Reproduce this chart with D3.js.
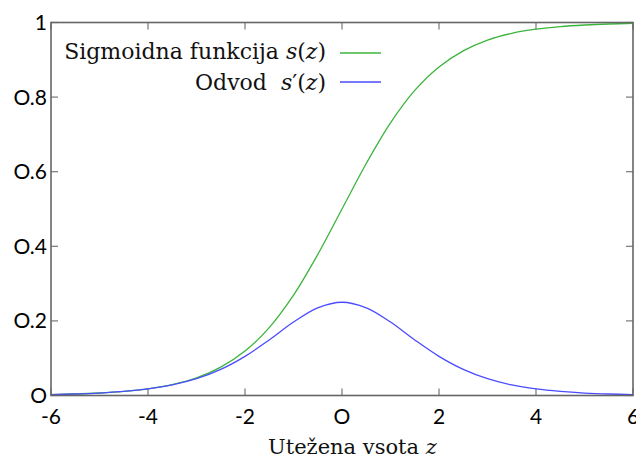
<!DOCTYPE html>
<html><head><meta charset="utf-8">
<script src="https://cdn.jsdelivr.net/npm/d3@7"></script>
<style>body{margin:0;background:#fff}svg{display:block}
.serif{font-family:"DejaVu Serif", "Liberation Serif", "Times New Roman", serif;}
</style>
</head><body>
<svg id="c" width="636" height="459"></svg>
<script>
const zValues = [-6,-5.5,-5,-4.5,-4,-3.5,-3,-2.5,-2,-1.5,-1,-0.5,0,0.5,1,1.5,2,2.5,3,3.5,4,4.5,5,5.5,6];
const sigmoidValues = [0.0025,0.004,0.0067,0.011,0.018,0.029,0.047,0.076,0.119,0.182,0.269,0.378,0.5,0.622,0.731,0.818,0.881,0.924,0.953,0.971,0.982,0.989,0.9933,0.996,0.9975];
const derivValues = [0.0025,0.004,0.0066,0.011,0.0177,0.0283,0.045,0.070,0.105,0.149,0.197,0.235,0.25,0.235,0.197,0.149,0.105,0.070,0.045,0.0283,0.0177,0.011,0.0066,0.004,0.0025];
const xTicks = [-6,-4,-2,0,2,4,6];
const yTicks = [0,0.2,0.4,0.6,0.8,1];
const yTickLabels = ["O","O.2","O.4","O.6","O.8","1"];
const xTickLabels = ["-6","-4","-2","O","2","4","6"];

const svg = d3.select("#c");
const L=51, R=633, T=22.5, B=395.5;
const x = d3.scaleLinear().domain([-6,6]).range([L,R]);
const y = d3.scaleLinear().domain([0,1]).range([B,T]);
const tickColor="#777", tl=7;
const g = svg.append("g");

xTicks.forEach(v=>{
  g.append("line").attr("x1",x(v)).attr("x2",x(v)).attr("y1",B).attr("y2",B-tl).attr("stroke",tickColor).attr("stroke-width",1.2);
  g.append("line").attr("x1",x(v)).attr("x2",x(v)).attr("y1",T).attr("y2",T+tl).attr("stroke",tickColor).attr("stroke-width",1.2);
});
yTicks.forEach(v=>{
  g.append("line").attr("x1",L).attr("x2",L+tl).attr("y1",y(v)).attr("y2",y(v)).attr("stroke",tickColor).attr("stroke-width",1.2);
  g.append("line").attr("x1",R).attr("x2",R-tl).attr("y1",y(v)).attr("y2",y(v)).attr("stroke",tickColor).attr("stroke-width",1.2);
});

const line = d3.line().x(d=>x(d[0])).y(d=>y(d[1])).curve(d3.curveCatmullRom.alpha(0.5));
svg.append("path").datum(zValues.map((z,i)=>[z,sigmoidValues[i]])).attr("d",line)
  .attr("fill","none").attr("stroke","#3cb43c").attr("stroke-width",1.3);
svg.append("path").datum(zValues.map((z,i)=>[z,derivValues[i]])).attr("d",line)
  .attr("fill","none").attr("stroke","#4b4bff").attr("stroke-width",1.3);

svg.append("rect").attr("x",L).attr("y",T).attr("width",R-L).attr("height",B-T)
  .attr("fill","none").attr("stroke","#666").attr("stroke-width",1.6);

const sans = "Lato, 'Open Sans', sans-serif";
xTicks.forEach((v,i)=>{
  svg.append("text").attr("x",x(v)).attr("y",424).attr("text-anchor","middle")
    .attr("font-family",sans).attr("font-size",21).attr("fill","#000").text(xTickLabels[i]);
});
yTicks.forEach((v,i)=>{
  svg.append("text").attr("x",47).attr("y",y(v)+7.5).attr("text-anchor","end")
    .attr("font-family",sans).attr("font-size",21).attr("fill","#000").text(yTickLabels[i]);
});

const xl = svg.append("text").attr("class","serif").attr("x",268).attr("y",454).attr("text-anchor","start")
  .attr("font-size",21).attr("fill","#111");
xl.append("tspan").text("Utežena vsota ");
xl.append("tspan").attr("font-style","italic").text("z");

const fs = 22;
const lg = svg.append("g");
const t1 = lg.append("text").attr("class","serif").attr("x",326).attr("y",59).attr("text-anchor","end")
  .attr("font-size",fs).attr("fill","#111");
t1.append("tspan").text("Sigmoidna funkcija ");
t1.append("tspan").attr("font-style","italic").text("s");
t1.append("tspan").text("(");
t1.append("tspan").attr("font-style","italic").text("z");
t1.append("tspan").text(")");
const t2 = lg.append("text").attr("class","serif").attr("x",326).attr("y",90).attr("text-anchor","end")
  .attr("font-size",fs).attr("fill","#111");
t2.append("tspan").text("Odvod\u00a0\u00a0");
t2.append("tspan").attr("font-style","italic").text("s");
t2.append("tspan").text("′(");
t2.append("tspan").attr("font-style","italic").text("z");
t2.append("tspan").text(")");
lg.append("line").attr("x1",340).attr("x2",381).attr("y1",53).attr("y2",53).attr("stroke","#3cb43c").attr("stroke-width",1.3);
lg.append("line").attr("x1",340).attr("x2",381).attr("y1",82).attr("y2",82).attr("stroke","#4b4bff").attr("stroke-width",1.3);
</script>
</body></html>
